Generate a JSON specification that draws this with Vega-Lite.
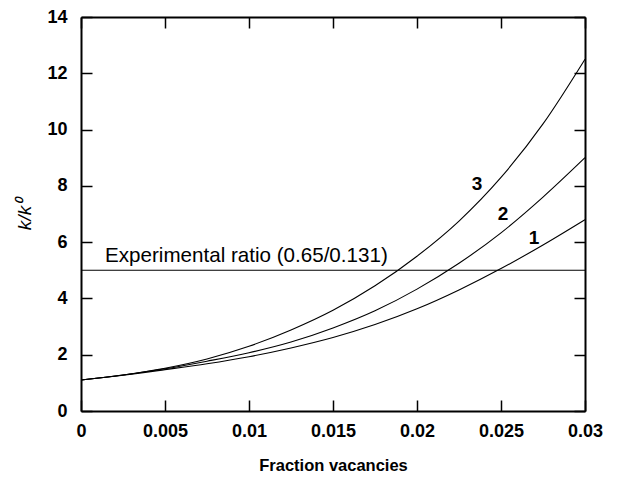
{
  "$schema": "https://vega.github.io/schema/vega-lite/v6.json",
  "width": 504,
  "height": 394,
  "autosize": {"type": "none"},
  "padding": {"left": 81, "top": 17, "right": 33, "bottom": 72},
  "background": "white",
  "config": {
    "view": {"stroke": null},
    "font": "Liberation Sans",
    "axis": {
      "domainColor": "black",
      "domainWidth": 2,
      "tickColor": "black",
      "tickWidth": 1.5,
      "tickSize": -11,
      "grid": false,
      "labelFont": "Liberation Sans",
      "labelFontWeight": "bold",
      "labelFontSize": 18,
      "labelColor": "black",
      "titleFont": "Liberation Sans",
      "titleFontWeight": "bold",
      "titleFontSize": 16.5,
      "titleColor": "black"
    }
  },
  "datasets": {
    "curves": [
      {"x": 0, "y": 1.1, "curve": "1"},
      {"x": 0.0025, "y": 1.27, "curve": "1"},
      {"x": 0.005, "y": 1.47, "curve": "1"},
      {"x": 0.0075, "y": 1.68, "curve": "1"},
      {"x": 0.01, "y": 1.93, "curve": "1"},
      {"x": 0.0125, "y": 2.24, "curve": "1"},
      {"x": 0.015, "y": 2.61, "curve": "1"},
      {"x": 0.0175, "y": 3.07, "curve": "1"},
      {"x": 0.02, "y": 3.63, "curve": "1"},
      {"x": 0.0225, "y": 4.3, "curve": "1"},
      {"x": 0.025, "y": 5.06, "curve": "1"},
      {"x": 0.0275, "y": 5.9, "curve": "1"},
      {"x": 0.03, "y": 6.8, "curve": "1"},
      {"x": 0, "y": 1.1, "curve": "2"},
      {"x": 0.0025, "y": 1.28, "curve": "2"},
      {"x": 0.005, "y": 1.5, "curve": "2"},
      {"x": 0.0075, "y": 1.77, "curve": "2"},
      {"x": 0.01, "y": 2.07, "curve": "2"},
      {"x": 0.0125, "y": 2.45, "curve": "2"},
      {"x": 0.015, "y": 2.95, "curve": "2"},
      {"x": 0.0175, "y": 3.56, "curve": "2"},
      {"x": 0.02, "y": 4.33, "curve": "2"},
      {"x": 0.0225, "y": 5.25, "curve": "2"},
      {"x": 0.025, "y": 6.33, "curve": "2"},
      {"x": 0.0275, "y": 7.6, "curve": "2"},
      {"x": 0.03, "y": 9.0, "curve": "2"},
      {"x": 0, "y": 1.1, "curve": "3"},
      {"x": 0.0025, "y": 1.28, "curve": "3"},
      {"x": 0.005, "y": 1.52, "curve": "3"},
      {"x": 0.0075, "y": 1.85, "curve": "3"},
      {"x": 0.01, "y": 2.3, "curve": "3"},
      {"x": 0.0125, "y": 2.88, "curve": "3"},
      {"x": 0.015, "y": 3.58, "curve": "3"},
      {"x": 0.0175, "y": 4.45, "curve": "3"},
      {"x": 0.02, "y": 5.5, "curve": "3"},
      {"x": 0.0225, "y": 6.75, "curve": "3"},
      {"x": 0.025, "y": 8.3, "curve": "3"},
      {"x": 0.0275, "y": 10.2, "curve": "3"},
      {"x": 0.03, "y": 12.5, "curve": "3"}
    ],
    "labels": [
      {"x": 0.02357, "y": 8.06, "text": "3"},
      {"x": 0.02512, "y": 7.0, "text": "2"},
      {"x": 0.02696, "y": 6.15, "text": "1"}
    ],
    "ratio": [
      {"x1": 0, "x2": 0.03, "y": 5, "x": 0.00143, "ty": 5.5, "text": "Experimental ratio (0.65/0.131)"}
    ]
  },
  "resolve": {"axis": {"x": "independent", "y": "independent"}},
  "layer": [
    {
      "data": {"name": "curves"},
      "mark": {"type": "line", "color": "black", "strokeWidth": 1.1, "interpolate": "monotone"},
      "encoding": {
        "x": {"field": "x", "type": "quantitative", "scale": {"domain": [0, 0.03], "nice": false},
              "axis": {"values": [0, 0.005, 0.01, 0.015, 0.02, 0.025, 0.03], "format": "~g", "title": "Fraction vacancies", "labelPadding": 22, "titlePadding": 17, "labelFlush": false}},
        "y": {"field": "y", "type": "quantitative", "scale": {"domain": [0, 14], "nice": false},
              "axis": {"values": [0, 2, 4, 6, 8, 10, 12, 14], "title": "k/k⁰", "titleFontStyle": "italic", "titleFontWeight": "normal", "titleFontSize": 19, "labelPadding": 25, "titlePadding": 12, "labelFlush": false}},
        "detail": {"field": "curve"}
      }
    },
    {
      "data": {"name": "ratio"},
      "mark": {"type": "rule", "color": "black", "strokeWidth": 1.1},
      "encoding": {
        "x": {"field": "x1", "type": "quantitative", "axis": {"orient": "top", "labels": false, "title": null, "values": [0, 0.005, 0.01, 0.015, 0.02, 0.025, 0.03]}},
        "x2": {"field": "x2"},
        "y": {"field": "y", "type": "quantitative", "axis": {"orient": "right", "labels": false, "title": null, "values": [0, 2, 4, 6, 8, 10, 12, 14]}}
      }
    },
    {
      "data": {"name": "ratio"},
      "mark": {"type": "text", "align": "left", "baseline": "middle", "fontSize": 20.6, "font": "Liberation Sans", "color": "black"},
      "encoding": {
        "x": {"field": "x", "type": "quantitative", "axis": null},
        "y": {"field": "ty", "type": "quantitative", "axis": null},
        "text": {"field": "text"}
      }
    },
    {
      "data": {"name": "labels"},
      "mark": {"type": "text", "align": "center", "baseline": "middle", "fontSize": 19, "fontWeight": "bold", "font": "Liberation Sans", "color": "black"},
      "encoding": {
        "x": {"field": "x", "type": "quantitative", "axis": null},
        "y": {"field": "y", "type": "quantitative", "axis": null},
        "text": {"field": "text"}
      }
    }
  ]
}
